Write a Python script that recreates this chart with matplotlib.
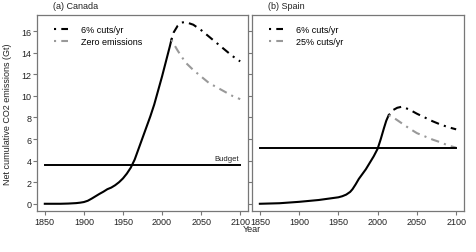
import numpy as np
import matplotlib
matplotlib.use("Agg")
import matplotlib.pyplot as plt

plt.rcParams['font.family'] = ['Liberation Sans', 'DejaVu Sans']

# Canada
ca_hist_years = [1850, 1870, 1880, 1890, 1895, 1900, 1905, 1910, 1915, 1920,
                 1925, 1930, 1935, 1940, 1945, 1950, 1955, 1960, 1965, 1970,
                 1975, 1980, 1985, 1990, 1995, 2000, 2005, 2010, 2012]
ca_hist = [0, 0, 0.02, 0.06, 0.1, 0.16, 0.28, 0.48, 0.7, 0.92,
           1.12, 1.35, 1.5, 1.72, 2.0, 2.35, 2.8, 3.35, 4.1, 5.1,
           6.1, 7.1, 8.1, 9.2, 10.5, 11.8, 13.2, 14.6, 15.2]
ca_6_years = [2012, 2015, 2020, 2025, 2030, 2040, 2050, 2060, 2070, 2080, 2090, 2100]
ca_6 = [15.2, 15.9, 16.5, 16.8, 16.85, 16.6, 16.1, 15.5, 14.9, 14.3, 13.7, 13.2]
ca_0_years = [2012, 2020, 2030, 2040, 2050, 2060, 2070, 2080, 2090, 2100]
ca_0 = [15.2, 14.2, 13.1, 12.4, 11.8, 11.2, 10.8, 10.4, 10.0, 9.7]
ca_budget = 3.6

# Spain
es_hist_years = [1850, 1875, 1900, 1925, 1950, 1955, 1960, 1965, 1968, 1972,
                 1976, 1980, 1985, 1990, 1995, 2000, 2004, 2008, 2011, 2014]
es_hist = [0, 0.05, 0.18, 0.35, 0.6, 0.7, 0.85, 1.1, 1.35, 1.8,
           2.3, 2.7, 3.2, 3.8, 4.4, 5.1, 6.0, 7.0, 7.7, 8.2]
es_6_years = [2014, 2020, 2025, 2031, 2040, 2050, 2060, 2070, 2080, 2090, 2100]
es_6 = [8.2, 8.7, 8.9, 9.0, 8.75, 8.35, 8.0, 7.65, 7.35, 7.1, 6.9]
es_25_years = [2014, 2020, 2030, 2040, 2050, 2060, 2070, 2080, 2090, 2100]
es_25 = [8.2, 8.0, 7.5, 7.0, 6.55, 6.25, 5.95, 5.7, 5.4, 5.2]
es_budget = 5.2

xticks = [1850, 1900, 1950, 2000, 2050, 2100]
yticks = [0, 2, 4, 6, 8, 10, 12, 14, 16]

fig = plt.figure(figsize=(4.76, 2.53), dpi=100)
ax1 = fig.add_axes([37/476, 1-212/253, 211/476, 196/253])
ax2 = fig.add_axes([252/476, 1-212/253, 212/476, 196/253])

dd = (0, (1, 2.5, 4, 2.5))
grey = '#999999'
edge = '#777777'

panels = [
    (ax1, ca_hist_years, ca_hist, ca_6_years, ca_6, ca_0_years, ca_0,
     ca_budget, '(a) Canada', 'Zero emissions'),
    (ax2, es_hist_years, es_hist, es_6_years, es_6, es_25_years, es_25,
     es_budget, '(b) Spain', '25% cuts/yr'),
]

for ax, hy, hv, y6, v6, y2, v2, bud, title, lab2 in panels:
    ax.plot(hy, hv, color='black', lw=1.5)
    l1, = ax.plot(y6, v6, color='black', lw=1.5, ls=dd, label='6% cuts/yr')
    l2, = ax.plot(y2, v2, color=grey, lw=1.5, ls=dd, label=lab2)
    ax.plot([1850, 2100], [bud, bud], color='black', lw=1.4)
    ax.set_xlim(1840, 2110)
    ax.set_ylim(-0.67, 17.5)
    ax.set_xticks(xticks)
    ax.set_yticks(yticks)
    ax.tick_params(direction='out', length=3, width=0.8, color=edge,
                   labelsize=6.5, pad=1, labelcolor='#222222')
    for s in ax.spines.values():
        s.set_color(edge)
        s.set_linewidth(0.9)
    ax.text(0.075, 1.05, title, transform=ax.transAxes, fontsize=6.5,
            ha='left', va='center', color='#222222')
    ax.legend(handles=[l1, l2], loc='upper left', frameon=False, fontsize=6.5,
              handlelength=1.6, handletextpad=1.4, labelspacing=0.3,
              bbox_to_anchor=(0.04, 0.99))

ax2.tick_params(labelleft=False)
ax1.text(2098, ca_budget + 0.25, 'Budget', fontsize=5.5, ha='right', va='bottom',
         color='#222222')

fig.text(252/476, 1-230/253, 'Year', fontsize=6.5, ha='center', va='center',
         color='#222222')
fig.text(8/476, 1-114/253, 'Net cumulative CO2 emissions (Gt)', fontsize=6.5,
         rotation=90, ha='center', va='center', color='#222222')

fig.savefig('out.png', dpi=100)
